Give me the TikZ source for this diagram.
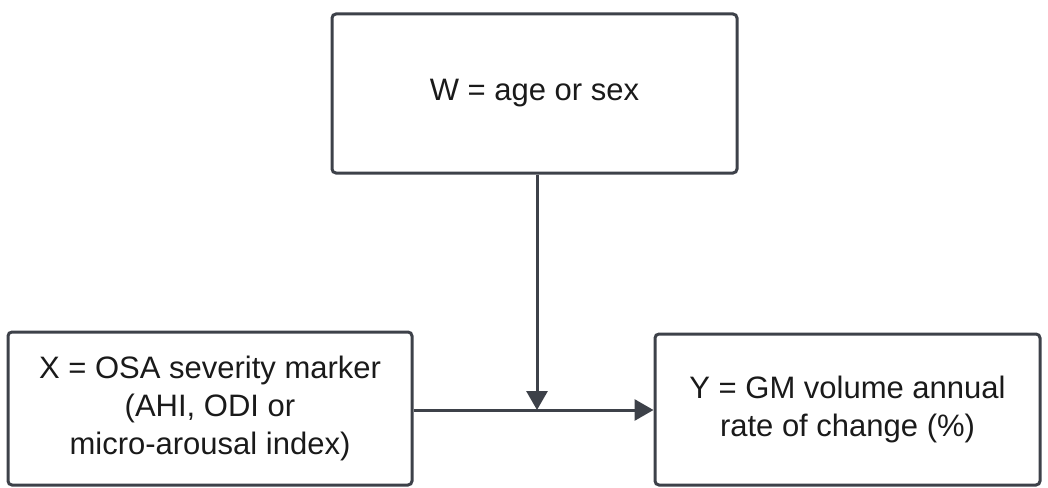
\documentclass[tikz,border=0pt]{standalone}
\usepackage{fontspec}
\setmainfont{Liberation Sans}
\usetikzlibrary{arrows.meta}
\definecolor{edge}{HTML}{3D4149}
\definecolor{ink}{HTML}{1A1A1A}
\tikzset{
  box/.style={draw=edge, line width=3pt, rounded corners=4pt, rectangle, inner sep=0pt,
    align=center, text=ink, font=\fontsize{31}{38}\selectfont},
  conn/.style={draw=edge, line width=3pt, -{Triangle[length=19pt,width=21pt]}}
}
\begin{document}
\begin{tikzpicture}[x=1pt,y=-1pt]
\useasboundingbox (0,0) rectangle (1048,487);
\node[box, minimum width=405pt, minimum height=159pt] (W) at (534.5,93.5) {W = age or sex};
\node[box, minimum width=404pt, minimum height=153pt] (X) at (210,408.5) {X = OSA severity marker\\(AHI, ODI or\\micro-arousal index)};
\node[box, minimum width=385pt, minimum height=151pt] (Y) at (847.5,409.5) {Y = GM volume annual\\rate of change (\%)};
\coordinate (j) at (537,410);
\draw[conn] (W.south -| j) -- (j);
\draw[conn] (X.east |- j) -- (Y.west |- j);
\end{tikzpicture}
\end{document}
